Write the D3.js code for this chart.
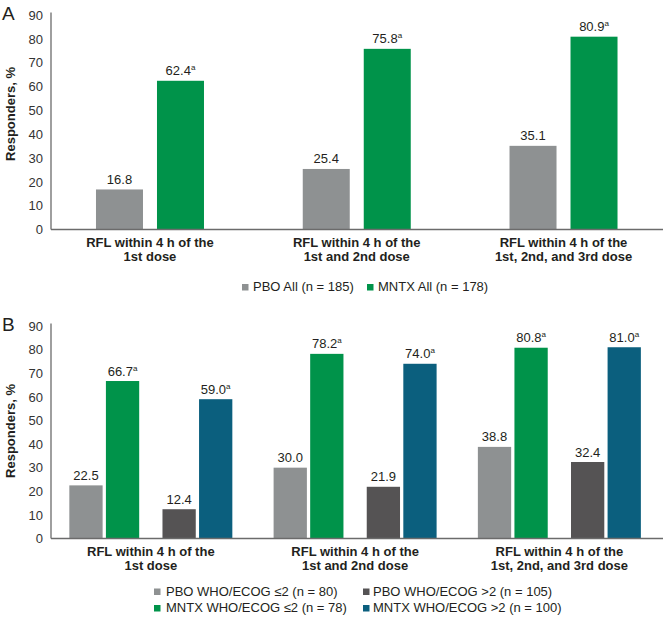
<!DOCTYPE html>
<html><head><meta charset="utf-8">
<script src="https://cdn.jsdelivr.net/npm/d3@7"></script>
<style>
body{margin:0;background:#fff}
text{font-family:"Liberation Sans",Arial,Helvetica,sans-serif}
</style>
</head><body>
<svg id="chart" width="666" height="618"></svg>
<script>
// ---------- data ----------
const categories = [
  ["RFL within 4 h of the", "1st dose"],
  ["RFL within 4 h of the", "1st and 2nd dose"],
  ["RFL within 4 h of the", "1st, 2nd, and 3rd dose"]
];
const yTicks = [0, 10, 20, 30, 40, 50, 60, 70, 80, 90];

// Panel A
const pboAll  = [16.8, 25.4, 35.1];
const mntxAll = [62.4, 75.8, 80.9];
const pboAllSig  = ["", "", ""];
const mntxAllSig = ["a", "a", "a"];
const legendA = ["PBO All (n = 185)", "MNTX All (n = 178)"];

// Panel B
const pboLe2  = [22.5, 30.0, 38.8];
const mntxLe2 = [66.7, 78.2, 80.8];
const pboGt2  = [12.4, 21.9, 32.4];
const mntxGt2 = [59.0, 74.0, 81.0];
const pboLe2Sig  = ["", "", ""];
const mntxLe2Sig = ["a", "a", "a"];
const pboGt2Sig  = ["", "", ""];
const mntxGt2Sig = ["a", "a", "a"];
const legendB = ["PBO WHO/ECOG \u22642 (n = 80)", "PBO WHO/ECOG >2 (n = 105)",
                 "MNTX WHO/ECOG \u22642 (n = 78)", "MNTX WHO/ECOG >2 (n = 100)"];

const colors = {pbo: "#8e9192", mntx: "#00934a", pboDark: "#555354", mntxBlue: "#0b5f7e"};
const textColor = "#231f20";
const axisColor = "#6b6b6b";

const svg = d3.select("#chart");
const fmt = d3.format(".1f");

function drawPanel(cfg) {
  const g = svg.append("g");
  const y = d3.scaleLinear().domain([0, 90]).range([cfg.y0, cfg.y90]);
  const x0 = d3.scaleBand().domain(d3.range(categories.length)).range(cfg.xRange);
  const pairKeys = Array.from(new Set(cfg.series.map(s => s.pair)));
  const pairScale = d3.scaleBand().domain(pairKeys)
      .range([-cfg.groupHalf, cfg.groupHalf]).paddingInner(cfg.pairPad);
  const innerKeys = Array.from(new Set(cfg.series.map(s => s.inner)));
  const innerScale = d3.scaleBand().domain(innerKeys)
      .range([0, pairScale.bandwidth()]).paddingInner(cfg.innerPad);

  // panel letter
  g.append("text").attr("x", 2).attr("y", cfg.y90 + 4.5)
    .attr("font-size", 19).attr("fill", textColor).text(cfg.letter);

  // y axis
  const yAxis = d3.axisLeft(y).tickValues(yTicks).tickSize(0).tickPadding(8);
  const ya = g.append("g").attr("transform", `translate(${cfg.axisX},0)`).call(yAxis);
  ya.select(".domain").remove();
  ya.selectAll("text").attr("font-size", 13).attr("fill", "#333")
    .attr("font-family", '"Liberation Sans",Arial,sans-serif');
  g.append("line").attr("x1", cfg.axisX).attr("x2", cfg.axisX)
    .attr("y1", y(0)).attr("y2", y(90) - 2.5)
    .attr("stroke", axisColor).attr("stroke-width", 1.3);

  // y label
  g.append("text")
    .attr("transform", `translate(14.5,${cfg.yLabelY}) rotate(-90)`)
    .attr("text-anchor", "middle").attr("font-size", 13).attr("font-weight", "bold")
    .attr("fill", textColor).text("Responders, %");

  // bars
  cfg.series.forEach(s => {
    const bx = i => x0(i) + x0.bandwidth() / 2 + pairScale(s.pair) + innerScale(s.inner);
    const bw = innerScale.bandwidth();
    g.selectAll(null).data(s.values).enter().append("rect")
      .attr("x", (d, i) => bx(i)).attr("width", bw)
      .attr("y", d => y(d)).attr("height", d => y(0) - y(d))
      .attr("fill", s.color);
    const t = g.selectAll(null).data(s.values).enter().append("text")
      .attr("x", (d, i) => bx(i) + bw / 2).attr("y", d => y(d) - 5.5)
      .attr("text-anchor", "middle").attr("font-size", 13).attr("fill", textColor);
    t.append("tspan").text(d => fmt(d));
    t.append("tspan").attr("font-size", 8).attr("dy", -5)
      .text((d, i) => s.sig[i]);
  });

  // x baseline
  g.append("line").attr("x1", cfg.axisX).attr("x2", 663)
    .attr("y1", y(0)).attr("y2", y(0))
    .attr("stroke", axisColor).attr("stroke-width", 1.3);

  // category labels
  categories.forEach((lines, i) => {
    const cx = x0(i) + x0.bandwidth() / 2;
    const t = g.append("text").attr("text-anchor", "middle").attr("font-size", 13)
      .attr("font-weight", "bold").attr("fill", textColor);
    lines.forEach((ln, j) => {
      t.append("tspan").attr("x", cx).attr("y", y(0) + 17 + j * cfg.lineGap).text(ln);
    });
  });

  // legend
  cfg.legend.forEach(item => {
    g.append("rect").attr("x", item.sx).attr("y", item.by - 7).attr("width", 6.5).attr("height", 6.5)
      .attr("fill", item.color);
    g.append("text").attr("x", item.tx).attr("y", item.by).attr("font-size", 13)
      .attr("fill", textColor).text(item.label);
  });
}

drawPanel({
  letter: "A", y0: 229.5, y90: 15, axisX: 51, xRange: [46.6, 666.9], yLabelY: 114,
  groupHalf: 54, pairPad: 0, innerPad: 14 / 61, lineGap: 14,
  series: [
    {pair: "all", inner: "PBO", values: pboAll, color: colors.pbo, sig: pboAllSig},
    {pair: "all", inner: "MNTX", values: mntxAll, color: colors.mntx, sig: mntxAllSig}
  ],
  legend: [
    {label: legendA[0], color: colors.pbo, sx: 242, tx: 253, by: 291},
    {label: legendA[1], color: colors.mntx, sx: 367, tx: 378, by: 291}
  ]
});

drawPanel({
  letter: "B", y0: 538.5, y90: 326, axisX: 51, xRange: [48.7, 661.5], yLabelY: 431,
  groupHalf: 81.5, pairPad: 0.25, innerPad: 0.09, lineGap: 14.5,
  series: [
    {pair: "le2", inner: "PBO", values: pboLe2, color: colors.pbo, sig: pboLe2Sig},
    {pair: "le2", inner: "MNTX", values: mntxLe2, color: colors.mntx, sig: mntxLe2Sig},
    {pair: "gt2", inner: "PBO", values: pboGt2, color: colors.pboDark, sig: pboGt2Sig},
    {pair: "gt2", inner: "MNTX", values: mntxGt2, color: colors.mntxBlue, sig: mntxGt2Sig}
  ],
  legend: [
    {label: legendB[0], color: colors.pbo, sx: 154, tx: 166, by: 595.5},
    {label: legendB[1], color: colors.pboDark, sx: 363, tx: 373, by: 595.5},
    {label: legendB[2], color: colors.mntx, sx: 154, tx: 166, by: 612},
    {label: legendB[3], color: colors.mntxBlue, sx: 363, tx: 373, by: 612}
  ]
});
</script>
</body></html>
